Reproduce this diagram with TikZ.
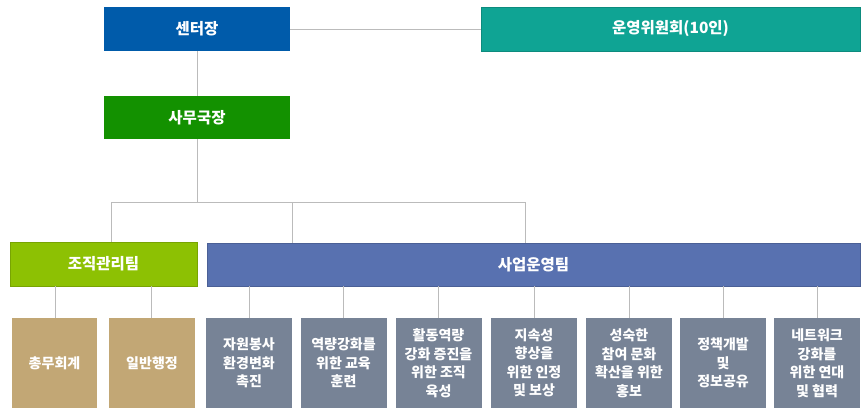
\documentclass[tikz,border=0pt]{standalone}
\usepackage{fontspec}
\newfontfamily\kr{Noto Sans CJK KR}
\definecolor{cblue}{HTML}{005BAA}
\definecolor{cteal}{HTML}{0FA494}
\definecolor{cgreen}{HTML}{139100}
\definecolor{clime}{HTML}{8DC103}
\definecolor{cbiz}{HTML}{5871B0}
\definecolor{ctan}{HTML}{C2A775}
\definecolor{cslate}{HTML}{778396}
\definecolor{cline}{HTML}{BBBBBB}
\tikzset{
  box/.style={rectangle, inner sep=0pt, text=white, align=center, font=\kr\bfseries\fontsize{15.5}{18}\selectfont},
  head/.style={box, minimum height=44pt},
  leaf/.style={box, minimum width=86pt, minimum height=90pt, font=\kr\bfseries\fontsize{14}{18.5}\selectfont},
  link/.style={draw=cline, line width=1pt}
}
\begin{document}
\begin{tikzpicture}[x=1pt,y=1pt]
\useasboundingbox (0,0) rectangle (866,-418);
\node[head, fill=cblue, minimum width=186pt] (ctr) at (197,-29) {센터장};
\node[head, fill=cteal, draw=cteal!85!black, line width=0.6pt, minimum width=379pt] (comm) at (670.5,-29) {운영위원회(10인)};
\node[head, fill=cgreen, minimum width=186pt, minimum height=43pt] (sec) at (197,-117.5) {사무국장};
\node[head, fill=clime, draw=clime!85!black, line width=0.6pt, minimum width=187pt] (org) at (103.5,-264) {조직관리팀};
\node[head, fill=cbiz, draw=cbiz!85!black, line width=0.6pt, minimum width=653pt, minimum height=43pt] (biz) at (533.5,-264.5) {사업운영팀};
\node[leaf, fill=ctan, minimum width=85pt] (a1) at (54.5,-363) {총무회계};
\node[leaf, fill=ctan] (a2) at (152,-363) {일반행정};
\node[leaf, fill=cslate] (b1) at (249,-363) {자원봉사\\환경변화\\촉진};
\node[leaf, fill=cslate] (b2) at (343.5,-363) {역량강화를\\위한 교육\\훈련};
\node[leaf, fill=cslate] (b3) at (438.5,-363) {활동역량\\강화 증진을\\위한 조직\\육성};
\node[leaf, fill=cslate] (b4) at (534,-363) {지속성\\향상을\\위한 인정\\및 보상};
\node[leaf, fill=cslate] (b5) at (629,-363) {성숙한\\참여 문화\\확산을 위한\\홍보};
\node[leaf, fill=cslate] (b6) at (723,-363) {정책개발\\및\\정보공유};
\node[leaf, fill=cslate] (b7) at (817,-363) {네트워크\\강화를\\위한 연대\\및 협력};
\coordinate (jl) at (111,-202);
\coordinate (jm) at (292,-202);
\coordinate (jr) at (525,-202);
\draw[link] (ctr.east) -- (comm.west);
\draw[link] (ctr.south) -- (sec.north);
\draw[link] (sec.south) -- (sec.south |- jl);
\draw[link] (jl) -- (jr);
\draw[link] (jl) -- (jl |- org.north);
\draw[link] (jm) -- (jm |- biz.north);
\draw[link] (jr) -- (jr |- biz.north);
\foreach \n/\x in {a1/55,a2/151} {
  \draw[link] (\x,-286) -- (\x,-318);
}
\foreach \n in {b1,b2,b3,b4,b5,b6,b7} {
  \draw[link] (\n.north) -- (\n.north |- biz.south);
}
\end{tikzpicture}
\end{document}
